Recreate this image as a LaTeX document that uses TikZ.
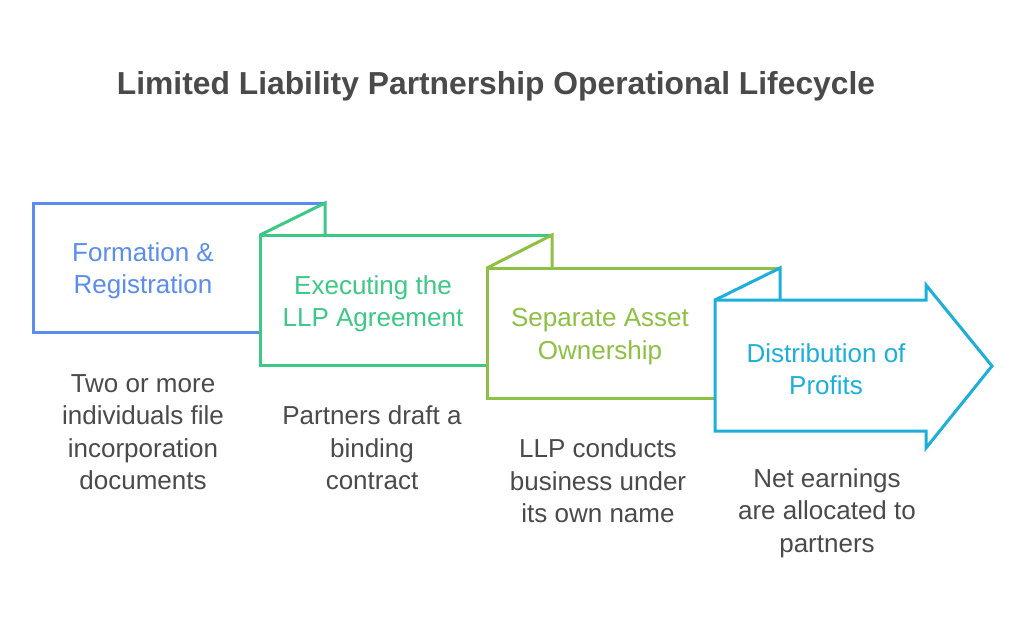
\documentclass[tikz,border=0pt]{standalone}
\usepackage{fontspec}
\setmainfont{Liberation Sans}
\definecolor{cblue}{HTML}{5B8DEE}
\definecolor{cgreen}{HTML}{3CC985}
\definecolor{clime}{HTML}{8DC043}
\definecolor{ccyan}{HTML}{1DAEDC}
\definecolor{ctext}{HTML}{4A4A4A}
\begin{document}
\begin{tikzpicture}[x=1pt,y=-1pt,
  outl/.style={line width=3pt, line join=miter},
  lbl/.style={align=center, inner sep=0pt, font=\fontsize{26}{32.5}\selectfont},
  desc/.style={align=center, inner sep=0pt, text=ctext, font=\fontsize{26}{32.5}\selectfont},
  ttl/.style={inner sep=0pt, text=ctext, font=\fontsize{31.8}{37}\selectfont\bfseries}]
\useasboundingbox[fill=white] (0,0) rectangle (1024,626);
\node[ttl] (title) at (496,86) {Limited Liability Partnership Operational Lifecycle};
% box 1
\draw[outl, cblue] (325,203) -- (33,203) -- (33,332) -- (260,332);
% box 2
\draw[outl, cgreen] (260,235) -- (325,203) -- (325,235);
\draw[outl, cgreen] (552,235) -- (260,235) -- (260,365) -- (487,365);
% box 3
\draw[outl, clime] (487,268) -- (552,235) -- (552,268);
\draw[outl, clime] (780,268) -- (487,268) -- (487,398) -- (715,398);
% box 4
\draw[outl, ccyan] (715,300) -- (780,268) -- (780,300);
\draw[outl, ccyan] (715,300) -- (926,300) -- (926,285) -- (992,366) -- (926,448) -- (926,431) -- (715,431) -- cycle;
% labels
\node[lbl, text=cblue] (l1) at (143,271) {Formation \&\\Registration};
\node[lbl, text=cgreen] (l2) at (373,304) {Executing the\\LLP Agreement};
\node[lbl, text=clime] (l3) at (600,336.5) {Separate Asset\\Ownership};
\node[lbl, text=ccyan] (l4) at (826,369) {Distribution of\\Profits};
% descriptions
\node[desc] (d1) at (143,432) {Two or more\\individuals file\\incorporation\\documents};
\node[desc] (d2) at (372,448) {Partners draft a\\binding\\contract};
\node[desc] (d3) at (598,481) {LLP conducts\\business under\\its own name};
\node[desc] (d4) at (827,513) {Net earnings\\are allocated to\\partners};
\end{tikzpicture}
\end{document}
